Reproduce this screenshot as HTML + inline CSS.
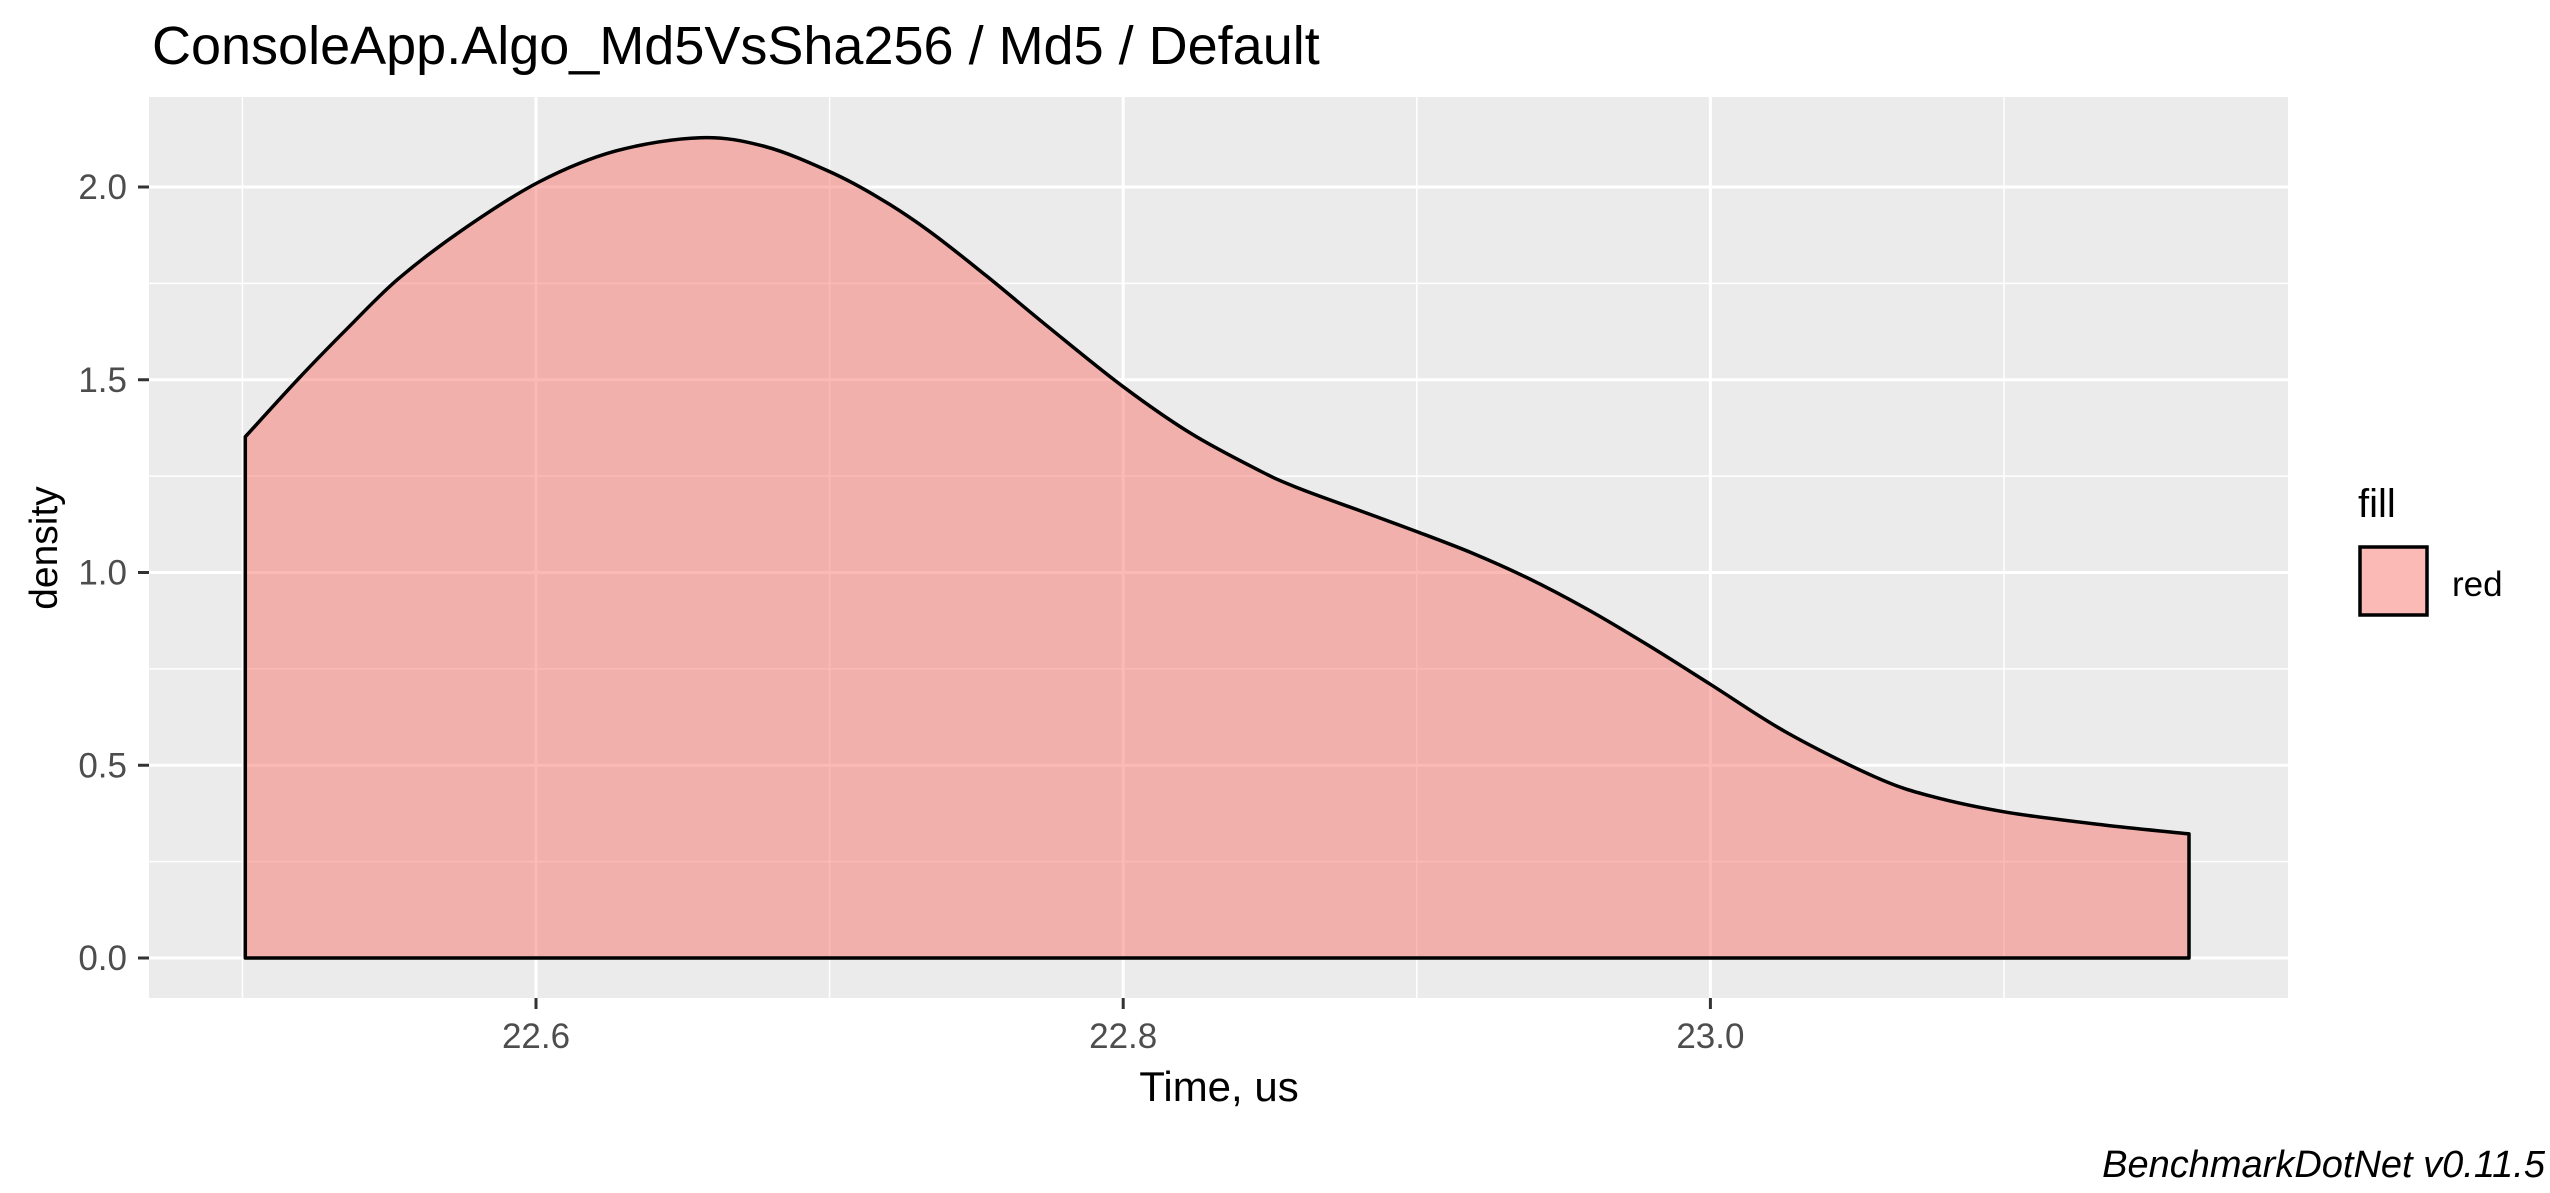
<!DOCTYPE html>
<html><head><meta charset="utf-8"><style>
html,body{margin:0;padding:0;background:#fff}
svg{display:block;font-family:"Liberation Sans",Arial,sans-serif}
</style></head><body>
<svg id="chart" width="2550" height="1193" viewBox="0 0 2550 1193" xmlns="http://www.w3.org/2000/svg">
<rect x="0" y="0" width="2550" height="1193" fill="#fff"/>
<text x="152" y="64" font-size="54" fill="#000">ConsoleApp.Algo_Md5VsSha256 / Md5 / Default</text>
<rect x="149" y="97" width="2139" height="901" fill="#EBEBEB"/>
<g id="grid"></g>
<g id="marks"></g>
<g id="axes"></g>
<text transform="translate(57,548) rotate(-90)" text-anchor="middle" font-size="39" fill="#000">density</text>
<text x="1219" y="1101" text-anchor="middle" font-size="42" fill="#000">Time, us</text>
<g>
<text x="2358" y="517" font-size="40" fill="#000">fill</text>
<rect x="2360" y="547" width="67" height="68" fill="#F8766D" fill-opacity="0.5" stroke="#000" stroke-width="3.5"/>
<text x="2452" y="596" font-size="35" fill="#000">red</text>
</g>
<text x="2545" y="1177" text-anchor="end" font-size="38" font-style="italic" fill="#000">BenchmarkDotNet v0.11.5</text>
</svg>
<script>
const xValues = [22.501,22.519,22.536,22.553,22.575,22.601,22.627,22.656,22.678,22.700,22.717,22.734,22.753,22.774,22.800,22.823,22.847,22.860,22.880,22.900,22.919,22.938,22.958,22.978,23.000,23.026,23.056,23.075,23.101,23.134,23.163];
const densityValues = [1.352,1.502,1.635,1.761,1.889,2.013,2.093,2.128,2.105,2.040,1.971,1.885,1.772,1.640,1.482,1.361,1.262,1.218,1.162,1.106,1.050,0.985,0.905,0.815,0.710,0.585,0.470,0.420,0.378,0.345,0.322];
const xTicks = [22.6,22.8,23.0];
const xTickLabels = ["22.6","22.8","23.0"];
const xMinor = [22.5,22.7,22.9,23.1];
const yTicks = [0,0.5,1.0,1.5,2.0];
const yTickLabels = ["0.0","0.5","1.0","1.5","2.0"];
const yMinor = [0.25,0.75,1.25,1.75];

const NS="http://www.w3.org/2000/svg";
const P={l:149,r:2288,t:97,b:998};
function sx(v){return 536+(v-22.6)*2936;}
function sy(v){return 958-v*385.5;}
function mk(tag,attrs,parent){const e=document.createElementNS(NS,tag);for(const k in attrs)e.setAttribute(k,attrs[k]);parent.appendChild(e);return e;}
const grid=document.getElementById('grid'),marks=document.getElementById('marks'),axes=document.getElementById('axes');
yMinor.forEach(v=>{const l=mk('line',{x1:P.l,x2:P.r,y1:sy(v),y2:sy(v),stroke:'#fff','stroke-width':1.5},grid);

});
xMinor.forEach(v=>{const l=mk('line',{x1:sx(v),x2:sx(v),y1:P.t,y2:P.b,stroke:'#fff','stroke-width':1.5},grid);

});
yTicks.forEach(v=>{const l=mk('line',{x1:P.l,x2:P.r,y1:sy(v),y2:sy(v),stroke:'#fff','stroke-width':3},grid);

});
xTicks.forEach(v=>{const l=mk('line',{x1:sx(v),x2:sx(v),y1:P.t,y2:P.b,stroke:'#fff','stroke-width':3},grid);

});
const pts=xValues.map((x,i)=>[sx(x),sy(densityValues[i])]);
let d='M'+sx(xValues[0]).toFixed(1)+','+sy(0).toFixed(1)+' L'+pts[0][0].toFixed(1)+','+pts[0][1].toFixed(1);
for(let i=0;i<pts.length-1;i++){
  const p0=pts[Math.max(0,i-1)],p1=pts[i],p2=pts[i+1],p3=pts[Math.min(pts.length-1,i+2)];
  const c1=[p1[0]+(p2[0]-p0[0])/6,p1[1]+(p2[1]-p0[1])/6];
  const c2=[p2[0]-(p3[0]-p1[0])/6,p2[1]-(p3[1]-p1[1])/6];
  d+=' C'+c1[0].toFixed(1)+','+c1[1].toFixed(1)+' '+c2[0].toFixed(1)+','+c2[1].toFixed(1)+' '+p2[0].toFixed(1)+','+p2[1].toFixed(1);
}
d+=' L'+sx(xValues[xValues.length-1]).toFixed(1)+','+sy(0).toFixed(1)+' Z';
const area=mk('path',{d:d,fill:'#F8766D','fill-opacity':0.5,stroke:'#000','stroke-width':3.5,'stroke-linejoin':'round'},marks);


yTicks.forEach((v,i)=>{const t=mk('line',{x1:138,x2:149,y1:sy(v),y2:sy(v),stroke:'#333','stroke-width':3},axes);


const tx=mk('text',{x:127,y:sy(v)+12,'text-anchor':'end','font-size':35,fill:'#4D4D4D'},axes);tx.textContent=yTickLabels[i];

});
xTicks.forEach((v,i)=>{const t=mk('line',{x1:sx(v),x2:sx(v),y1:998,y2:1009,stroke:'#333','stroke-width':3},axes);


const tx=mk('text',{x:sx(v),y:1048,'text-anchor':'middle','font-size':35,fill:'#4D4D4D'},axes);tx.textContent=xTickLabels[i];

});
</script>
</body></html>
